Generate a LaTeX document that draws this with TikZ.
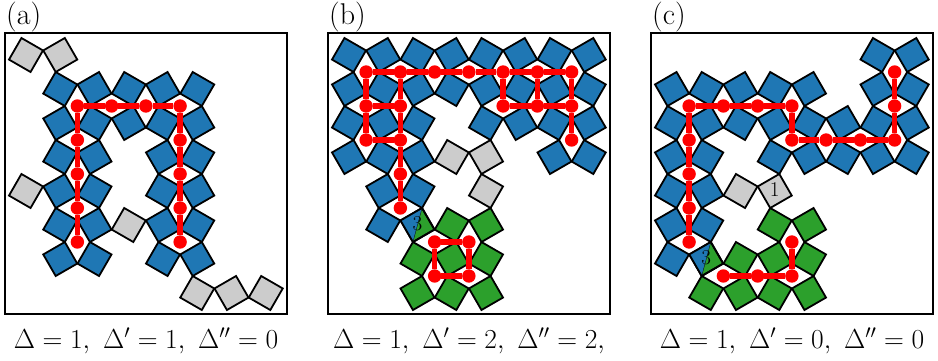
\RequirePackage{fix-cm}
\documentclass[tikz,border=0pt]{standalone}
\definecolor{tblue}{HTML}{1F77B4}
\definecolor{tgreen}{HTML}{2CA02C}
\definecolor{tgray}{HTML}{CCCCCC}
\definecolor{tred}{HTML}{FF0000}
\newcommand{\gridx}{34.25}
\newcommand{\gridy}{34}
\tikzset{
  tile/.style={draw=black,line width=1.8pt,minimum size=24.9pt,inner sep=0pt,outer sep=0pt,line join=miter},
  sitedot/.style={circle,fill=tred,minimum size=13.4pt,inner sep=0pt,outer sep=0pt},
  bond/.style={draw=tred,line width=5.6pt,line join=round},
  panelbox/.style={draw=black,line width=1.9pt,minimum width=282pt,minimum height=281pt,inner sep=0pt},
  tag/.style={inner sep=0pt,anchor=base west,font=\fontsize{30}{32}\selectfont},
  caption/.style={inner sep=0pt,anchor=base,font=\fontsize{27.5}{32}\selectfont},
  weight/.style={inner sep=0pt,yshift=1pt,font=\fontsize{21}{24}\selectfont}
}
% \tiles{panel}{colour}{col/row,...}
\newcommand{\tiles}[3]{%
  \foreach \c/\r in {#3}{%
    \pgfmathsetmacro{\tiltangle}{mod(\c+\r,2)==0 ? -30 : 30}%
    \node[tile,fill=#2,rotate=\tiltangle] (#1-t-\c-\r) at ({26+\gridx*\c},{55+\gridy*\r}) {};
  }%
}
% half tile, odd parity: left part blue, right part green
\newcommand{\halftile}[3]{%
  \node[tile,fill=tgreen,rotate=30] (#1-t-#2-#3) at ({26+\gridx*#2},{55+\gridy*#3}) {};
  \fill[tblue] (#1-t-#2-#3.north east) -- (#1-t-#2-#3.north west) -- (#1-t-#2-#3.south west) -- cycle;
  \draw[black,line width=1.8pt,line join=miter] (#1-t-#2-#3.north east) -- (#1-t-#2-#3.north west) -- (#1-t-#2-#3.south west) -- (#1-t-#2-#3.south east) -- cycle;
  \draw[black,line width=0.3pt] (#1-t-#2-#3.north east) -- (#1-t-#2-#3.south west);
}
% \sites{panel}{i/j,...}
\newcommand{\sites}[2]{%
  \foreach \i/\j in {#2}{%
    \node[sitedot] (#1-s-\i-\j) at ({26+\gridx*(\i+0.5)},{55+\gridy*(\j+0.5)}) {};
  }%
}
\begin{document}
\begin{tikzpicture}[x=1pt,y=-1pt]
\useasboundingbox (0,0) rectangle (938,360);
% ---------- panel a
\begin{scope}
\node[panelbox] (a-box) at (146,173.5) {};
\node[tag] (a-tag) at (6,24) {(a)};
\tiles{a}{tgray}{0/0,1/0,0/4,3/5,5/7,6/7,7/7}
\tiles{a}{tblue}{1/1,2/1,3/1,4/1,5/1,1/2,2/2,3/2,4/2,5/2,1/3,2/3,4/3,5/3,1/4,2/4,4/4,5/4,1/5,2/5,4/5,5/5,1/6,2/6,4/6,5/6}
\sites{a}{1/1,2/1,3/1,4/1,1/2,1/3,1/4,1/5,4/2,4/3,4/4,4/5}
\draw[bond] (a-s-1-5) -- (a-s-1-4) -- (a-s-1-3) -- (a-s-1-2) -- (a-s-1-1) -- (a-s-2-1) -- (a-s-3-1) -- (a-s-4-1) -- (a-s-4-2) -- (a-s-4-3) -- (a-s-4-4) -- (a-s-4-5);
\node[caption] (a-cap) at (146,348) {$\Delta=1,\ \Delta'=1,\ \Delta''=0$};
\end{scope}
% ---------- panel b
\begin{scope}[xshift=323pt]
\node[panelbox] (b-box) at (146,173.5) {};
\node[tag] (b-tag) at (6,24) {(b)};
\tiles{b}{tblue}{0/0,1/0,2/0,3/0,4/0,5/0,6/0,7/0,0/1,1/1,2/1,3/1,4/1,5/1,6/1,7/1,0/2,1/2,2/2,4/2,5/2,6/2,7/2,0/3,1/3,2/3,6/3,7/3,1/4,2/4,1/5}
\tiles{b}{tgray}{3/3,4/3,4/4}
\tiles{b}{tgreen}{3/5,4/5,2/6,3/6,4/6,2/7,3/7,4/7}
\halftile{b}{2}{5}
\node[weight] (b-w) at (b-t-2-5) {3};
\sites{b}{0/0,1/0,2/0,3/0,4/0,5/0,6/0,0/1,1/1,4/1,5/1,6/1,0/2,1/2,6/2,1/3,1/4}
\draw[bond] (b-s-0-0) -- (b-s-1-0) -- (b-s-2-0) -- (b-s-3-0) -- (b-s-4-0) -- (b-s-5-0) -- (b-s-6-0) -- (b-s-6-1) -- (b-s-6-2);
\draw[bond] (b-s-0-0) -- (b-s-0-1) -- (b-s-0-2) -- (b-s-1-2) -- (b-s-1-1) -- (b-s-0-1);
\draw[bond] (b-s-1-0) -- (b-s-1-1);
\draw[bond] (b-s-1-2) -- (b-s-1-3) -- (b-s-1-4);
\draw[bond] (b-s-4-0) -- (b-s-4-1) -- (b-s-5-1) -- (b-s-6-1);
\draw[bond] (b-s-5-0) -- (b-s-5-1);
\sites{b}{2/5,3/5,2/6,3/6}
\draw[bond] (b-s-2-5) -- (b-s-3-5) -- (b-s-3-6) -- (b-s-2-6) -- (b-s-2-5);
\node[caption] (b-cap) at (146,348) {$\Delta=1,\ \Delta'=2,\ \Delta''=2,$};
\end{scope}
% ---------- panel c
\begin{scope}[xshift=646pt]
\node[panelbox] (c-box) at (146,173.5) {};
\node[tag] (c-tag) at (6,24) {(c)};
\tiles{c}{tblue}{6/0,7/0,0/1,1/1,2/1,3/1,4/1,6/1,7/1,0/2,1/2,2/2,3/2,4/2,5/2,6/2,7/2,0/3,1/3,3/3,4/3,5/3,6/3,7/3,0/4,1/4,0/5,1/5,0/6}
\tiles{c}{tgray}{2/4,3/4}
\node[weight] (c-w) at (c-t-3-4) {1};
\tiles{c}{tgreen}{3/5,4/5,2/6,3/6,4/6,1/7,2/7,3/7,4/7}
\halftile{c}{1}{6}
\node[weight] (c-x) at (c-t-1-6) {3};
\sites{c}{0/1,1/1,2/1,3/1,3/2,4/2,5/2,6/2,6/1,6/0,0/2,0/3,0/4,0/5}
\draw[bond] (c-s-0-5) -- (c-s-0-4) -- (c-s-0-3) -- (c-s-0-2) -- (c-s-0-1) -- (c-s-1-1) -- (c-s-2-1) -- (c-s-3-1) -- (c-s-3-2) -- (c-s-4-2) -- (c-s-5-2) -- (c-s-6-2) -- (c-s-6-1) -- (c-s-6-0);
\sites{c}{1/6,2/6,3/6,3/5}
\draw[bond] (c-s-1-6) -- (c-s-2-6) -- (c-s-3-6) -- (c-s-3-5);
\node[caption] (c-cap) at (146,348) {$\Delta=1,\ \Delta'=0,\ \Delta''=0$};
\end{scope}
\end{tikzpicture}
\end{document}
